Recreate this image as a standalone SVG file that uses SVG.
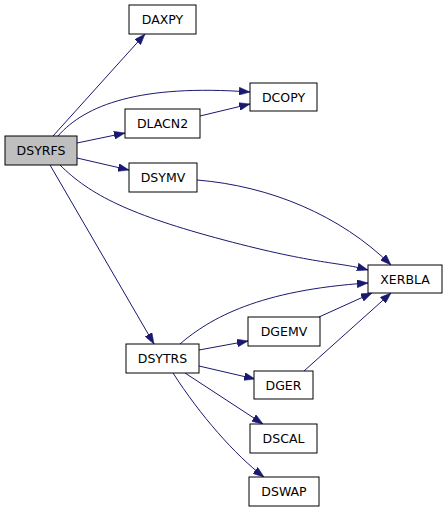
<svg xmlns="http://www.w3.org/2000/svg" width="448" height="512" viewBox="0 0 448 512">
<style>
.n rect{fill:#fff;stroke:#000;stroke-width:1}
.n text{font-family:"DejaVu Sans",sans-serif;font-size:12.5px;text-anchor:middle;fill:#000}
.e path{fill:none;stroke:#191970;stroke-width:1}
</style>
<defs>
<marker id="a" markerUnits="userSpaceOnUse" markerWidth="11" markerHeight="8" refX="11" refY="4" orient="auto">
<path d="M0,0 L11,4 L0,8 z" fill="#191970" stroke="#191970" stroke-width="0.5"/>
</marker>
</defs>
<rect width="448" height="512" fill="#fff"/>
<g class="e">
<path d="M53,136 L145,34" marker-end="url(#a)"/>
<path d="M58,136 C85,105 140,84 250,92" marker-end="url(#a)"/>
<path d="M77,143 L125,133" marker-end="url(#a)"/>
<path d="M200,116 L250,104" marker-end="url(#a)"/>
<path d="M77,158 L129,170" marker-end="url(#a)"/>
<path d="M60,165 C90,195 130,215 224,240 S340,262 368,270" marker-end="url(#a)"/>
<path d="M197,180 C270,186 340,215 391,265" marker-end="url(#a)"/>
<path d="M50,165 L154,344" marker-end="url(#a)"/>
<path d="M180,344 C210,318 260,290 368,283" marker-end="url(#a)"/>
<path d="M199,350 L248,341" marker-end="url(#a)"/>
<path d="M319,317 L372,293" marker-end="url(#a)"/>
<path d="M199,366 L255,379" marker-end="url(#a)"/>
<path d="M304,371 L391,293" marker-end="url(#a)"/>
<path d="M185,373 L263,424" marker-end="url(#a)"/>
<path d="M173,373 C200,415 235,455 264,477" marker-end="url(#a)"/>
</g>
<g id="DSYRFS" class="n"><rect x="5" y="136" width="72" height="29" style="fill:#bfbfbf"/><text x="41" y="155">DSYRFS</text></g>
<g id="DAXPY" class="n"><rect x="129" y="5" width="67" height="29"/><text x="162.5" y="24">DAXPY</text></g>
<g id="DLACN2" class="n"><rect x="125" y="109" width="75" height="29"/><text x="162.5" y="128">DLACN2</text></g>
<g id="DSYMV" class="n"><rect x="129" y="163" width="68" height="29"/><text x="163" y="182">DSYMV</text></g>
<g id="DCOPY" class="n"><rect x="250" y="83" width="67" height="28"/><text x="283.5" y="101.5">DCOPY</text></g>
<g id="XERBLA" class="n"><rect x="368" y="265" width="74" height="28"/><text x="405" y="283.5">XERBLA</text></g>
<g id="DGEMV" class="n"><rect x="248" y="317" width="72" height="29"/><text x="284" y="336">DGEMV</text></g>
<g id="DSYTRS" class="n"><rect x="126" y="344" width="73" height="29"/><text x="162.5" y="363">DSYTRS</text></g>
<g id="DGER" class="n"><rect x="254" y="371" width="59" height="28"/><text x="283.5" y="389.5">DGER</text></g>
<g id="DSCAL" class="n"><rect x="250" y="424" width="67" height="29"/><text x="283.5" y="443">DSCAL</text></g>
<g id="DSWAP" class="n"><rect x="249" y="477" width="70" height="29"/><text x="284" y="496">DSWAP</text></g>
</svg>
